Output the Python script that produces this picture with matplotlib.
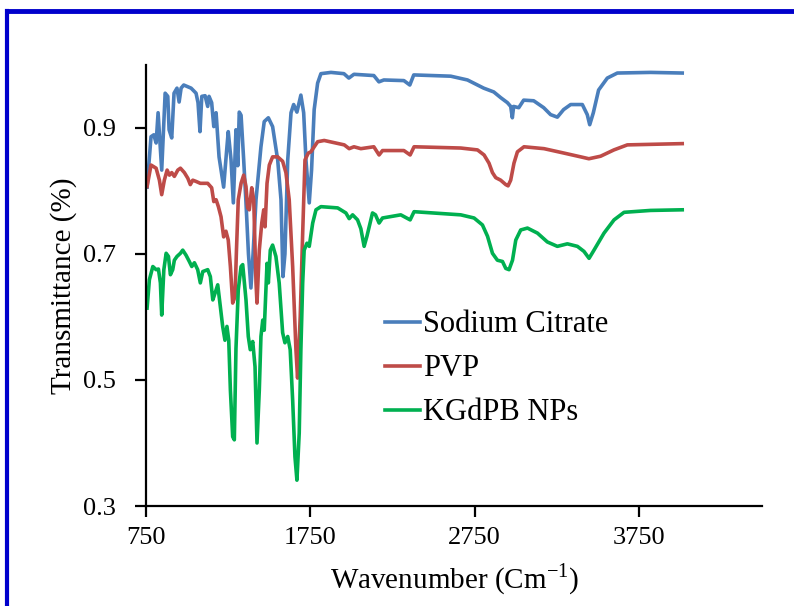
import matplotlib
matplotlib.use("Agg")
import matplotlib.pyplot as plt
from matplotlib.lines import Line2D

plt.rcParams["font.family"] = ["Liberation Serif", "DejaVu Serif"]
plt.rcParams["mathtext.fontset"] = "custom"
plt.rcParams["mathtext.rm"] = "Liberation Serif"

# values (wavenumber, transmittance)
citrate_wn = [756, 780, 797, 811, 823, 845, 866, 882, 890, 906, 920, 938, 951, 963, 979,
              1024, 1054, 1066, 1078, 1089, 1109, 1125, 1133, 1149, 1162, 1176, 1194, 1222,
              1242, 1250, 1267, 1281, 1297, 1308, 1317, 1328, 1344, 1358, 1373, 1388, 1401,
              1419, 1449, 1469, 1494, 1520, 1551, 1571, 1583, 1595, 1612, 1632, 1648, 1668,
              1692, 1709, 1723, 1743, 1757, 1773, 1794, 1814, 1875, 1954, 1984, 2015, 2136,
              2167, 2197, 2319, 2355, 2379, 2604, 2706, 2805, 2866, 2908, 2949, 2969, 2979,
              2987, 3018, 3048, 3109, 3170, 3212, 3253, 3291, 3334, 3405, 3435, 3450, 3472,
              3504, 3557, 3618, 3820, 4013]
citrate_t = [0.806, 0.886, 0.889, 0.876, 0.924, 0.833, 0.955, 0.950, 0.897, 0.884, 0.955,
             0.963, 0.941, 0.963, 0.968, 0.963, 0.955, 0.940, 0.894, 0.950, 0.951, 0.934,
             0.950, 0.940, 0.902, 0.924, 0.854, 0.806, 0.870, 0.894, 0.849, 0.781, 0.897,
             0.840, 0.925, 0.920, 0.849, 0.781, 0.700, 0.646, 0.700, 0.786, 0.870, 0.910,
             0.916, 0.902, 0.849, 0.786, 0.664, 0.700, 0.849, 0.924, 0.937, 0.925, 0.952,
             0.924, 0.849, 0.781, 0.833, 0.929, 0.971, 0.986, 0.988, 0.986, 0.979, 0.985,
             0.983, 0.973, 0.976, 0.975, 0.968, 0.984, 0.982, 0.976, 0.963, 0.957, 0.948,
             0.940, 0.934, 0.916, 0.934, 0.932, 0.944, 0.943, 0.932, 0.921, 0.917, 0.929,
             0.937, 0.937, 0.921, 0.905, 0.924, 0.960, 0.979, 0.987, 0.988, 0.987]

pvp_wn = [756, 780, 811, 831, 845, 861, 878, 892, 906, 922, 943, 959, 983, 1004, 1019,
          1034, 1054, 1080, 1125, 1149, 1162, 1176, 1190, 1206, 1222, 1236, 1250, 1263,
          1277, 1291, 1300, 1311, 1328, 1344, 1358, 1368, 1378, 1393, 1405, 1419, 1425,
          1439, 1454, 1466, 1474, 1486, 1500, 1520, 1551, 1581, 1601, 1621, 1642, 1662,
          1672, 1688, 1703, 1717, 1737, 1753, 1794, 1834, 1956, 1986, 2015, 2057, 2136,
          2168, 2189, 2319, 2357, 2381, 2665, 2767, 2807, 2837, 2858, 2878, 2908, 2939,
          2953, 2969, 2989, 3010, 3050, 3172, 3293, 3395, 3445, 3516, 3597, 3679, 4013]
pvp_t = [0.807, 0.841, 0.836, 0.817, 0.794, 0.817, 0.833, 0.825, 0.829, 0.823, 0.833,
         0.836, 0.829, 0.820, 0.810, 0.817, 0.815, 0.812, 0.812, 0.805, 0.783, 0.786,
         0.775, 0.759, 0.727, 0.736, 0.722, 0.680, 0.622, 0.632, 0.706, 0.786, 0.812,
         0.825, 0.807, 0.773, 0.770, 0.805, 0.786, 0.654, 0.622, 0.706, 0.749, 0.770,
         0.743, 0.812, 0.841, 0.854, 0.854, 0.847, 0.829, 0.786, 0.680, 0.548, 0.503,
         0.600, 0.733, 0.849, 0.860, 0.862, 0.878, 0.880, 0.873, 0.867, 0.870, 0.867,
         0.870, 0.857, 0.864, 0.864, 0.857, 0.870, 0.868, 0.865, 0.857, 0.844, 0.829,
         0.821, 0.817, 0.810, 0.808, 0.817, 0.844, 0.862, 0.870, 0.867, 0.860, 0.854,
         0.851, 0.855, 0.865, 0.873, 0.875]

np_wn = [756, 770, 791, 811, 825, 837, 845, 858, 872, 886, 898, 912, 922, 938, 959, 973,
         993, 1013, 1028, 1044, 1064, 1080, 1095, 1125, 1141, 1156, 1170, 1186, 1202, 1216,
         1230, 1242, 1253, 1263, 1277, 1287, 1297, 1311, 1328, 1338, 1358, 1372, 1384, 1399,
         1413, 1425, 1439, 1449, 1460, 1469, 1486, 1494, 1506, 1520, 1540, 1560, 1581, 1595,
         1612, 1627, 1642, 1656, 1668, 1682, 1692, 1703, 1712, 1729, 1743, 1764, 1784, 1814,
         1916, 1966, 1986, 2007, 2037, 2057, 2077, 2094, 2128, 2146, 2168, 2189, 2300, 2357,
         2381, 2665, 2746, 2797, 2828, 2858, 2888, 2919, 2939, 2959, 2980, 3000, 3030, 3071,
         3132, 3192, 3253, 3314, 3375, 3415, 3446, 3476, 3537, 3598, 3659, 3820, 4013]
np_t = [0.614, 0.659, 0.680, 0.675, 0.676, 0.654, 0.603, 0.675, 0.701, 0.696, 0.667, 0.675,
        0.690, 0.696, 0.701, 0.706, 0.698, 0.688, 0.680, 0.686, 0.675, 0.654, 0.672, 0.675,
        0.664, 0.627, 0.638, 0.651, 0.616, 0.585, 0.563, 0.585, 0.563, 0.484, 0.410, 0.405,
        0.550, 0.643, 0.680, 0.683, 0.627, 0.569, 0.548, 0.561, 0.521, 0.400, 0.484, 0.569,
        0.595, 0.579, 0.685, 0.654, 0.706, 0.714, 0.696, 0.654, 0.575, 0.559, 0.569, 0.548,
        0.468, 0.378, 0.341, 0.416, 0.548, 0.654, 0.706, 0.717, 0.712, 0.749, 0.770, 0.775,
        0.773, 0.765, 0.756, 0.762, 0.754, 0.740, 0.712, 0.728, 0.765, 0.762, 0.749, 0.757,
        0.762, 0.754, 0.767, 0.762, 0.757, 0.746, 0.728, 0.701, 0.690, 0.688, 0.677, 0.675,
        0.690, 0.722, 0.738, 0.741, 0.733, 0.719, 0.712, 0.716, 0.712, 0.704, 0.693, 0.706,
        0.733, 0.754, 0.766, 0.769, 0.770]

labels = ["Sodium Citrate", "PVP", "KGdPB NPs"]
colors = ["#4A7EBB", "#BE4B48", "#00B050"]
x_ticks = [750, 1750, 2750, 3750]
y_ticks = [0.3, 0.5, 0.7, 0.9]

fig = plt.figure(figsize=(7.94, 6.06), dpi=100)
ax = fig.add_axes([0.184, 0.165, 0.776, 0.728])

series = [(citrate_wn, citrate_t), (pvp_wn, pvp_t), (np_wn, np_t)]
for (wn, t), lab, c in zip(series, labels, colors):
    ax.plot(wn, t, color=c, lw=2.6, label=lab, solid_joinstyle="round")

ax.set_xlim(750, 4500)
ax.set_ylim(0.3, 1.0)
ax.set_xticks(x_ticks)
ax.set_yticks(y_ticks)
ax.set_yticklabels([f"{v:.1f}" for v in y_ticks])
ax.spines["top"].set_visible(False)
ax.spines["right"].set_visible(False)
ax.spines["left"].set_linewidth(1.6)
ax.spines["bottom"].set_linewidth(1.6)
ax.tick_params(axis="both", direction="out", length=8, width=1.6, labelsize=19)
ax.tick_params(axis="x", pad=7)
ax.tick_params(axis="y", pad=14)

ax.set_xlabel("Wavenumber (Cm$^{-1}$)", fontsize=21, labelpad=9)
ax.set_ylabel("Transmittance (%)", fontsize=21, labelpad=4)

ax.legend(loc="upper left", bbox_to_anchor=(0.485, 0.488), bbox_transform=fig.transFigure,
          frameon=False, fontsize=22, handlelength=1.15, handletextpad=0.1,
          labelspacing=0.49, borderpad=0, borderaxespad=0)

# blue frame on top and left edge
fig.add_artist(Line2D([7 / 794, 1], [1 - 11 / 606, 1 - 11 / 606], color="#0000CC", lw=3.5,
                      transform=fig.transFigure))
fig.add_artist(Line2D([7 / 794, 7 / 794], [0, 1 - 11 / 606], color="#0000CC", lw=3,
                      transform=fig.transFigure))

fig.savefig("out.png", dpi=100)
